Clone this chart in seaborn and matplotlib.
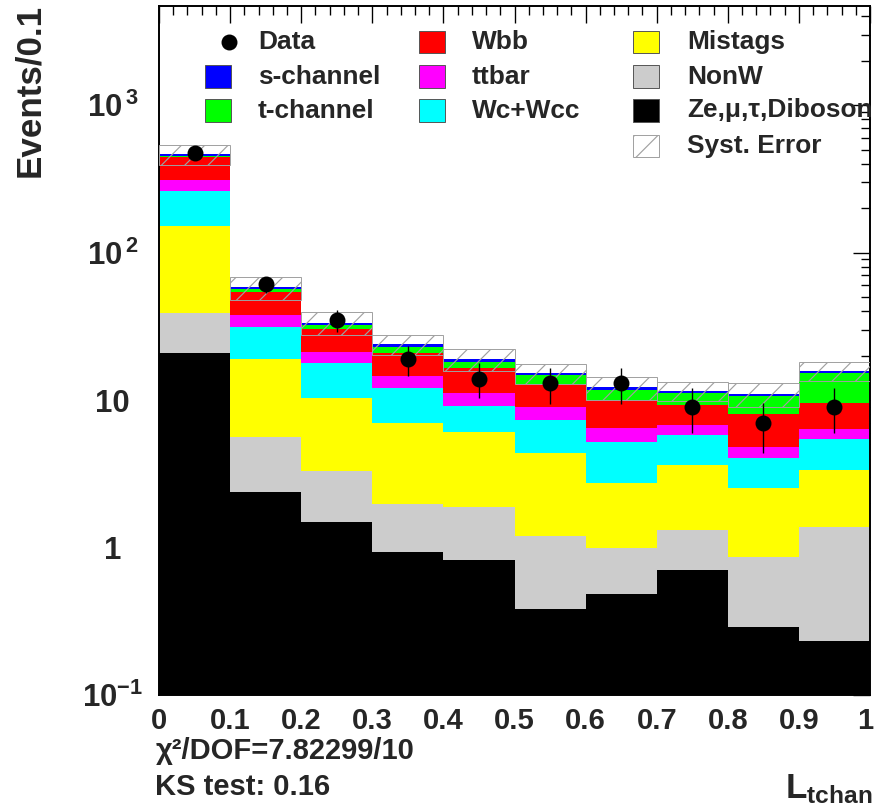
import numpy as np
import pandas as pd
import matplotlib
matplotlib.use("Agg")
import matplotlib.pyplot as plt
import matplotlib.transforms as mtransforms
from matplotlib.patches import Rectangle
from matplotlib.lines import Line2D
from matplotlib.ticker import MultipleLocator, LogLocator, FixedLocator, NullFormatter
import seaborn as sns

# ---- binning ----
bin_edges = [0.0, 0.1, 0.2, 0.3, 0.4, 0.5, 0.6, 0.7, 0.8, 0.9, 1.0]

# ---- stacked background / signal components (events per bin) ----
s_channel = [8.6, 1.8, 1.0, 0.9, 0.7, 0.5, 0.4, 0.4, 0.4, 0.5]
t_channel = [8.4, 2.1, 2.0, 2.1, 1.8, 1.9, 1.9, 1.95, 2.56, 5.71]
wbb = [136.2, 16.5, 9.14, 6.35, 5.2, 3.79, 3.46, 2.48, 3.21, 3.26]
ttbar = [48.8, 6.3, 3.52, 2.55, 2.09, 1.69, 1.21, 0.98, 0.81, 0.92]
wc_wcc = [110.0, 12.53, 7.47, 4.98, 3.01, 2.97, 2.46, 2.17, 1.48, 2.06]
mistags = [112.1, 13.28, 6.95, 5.03, 4.21, 3.15, 1.76, 2.31, 1.67, 1.98]
non_w = [18.3, 3.20, 1.82, 1.05, 1.07, 0.82, 0.51, 0.61, 0.58, 1.14]
z_diboson = [20.8, 2.39, 1.50, 0.937, 0.823, 0.381, 0.484, 0.704, 0.288, 0.233]

# ---- systematic uncertainty on the total prediction ----
syst_err = [72.0, 10.4, 5.9, 3.7, 3.2, 2.3, 2.1, 1.7, 2.0, 2.4]

# ---- observed data ----
data_counts = [475, 61, 35, 19, 14, 13, 13, 9, 7, 9]
data_err = [21.8, 7.8, 5.9, 4.4, 3.7, 3.6, 3.6, 3.0, 2.6, 3.0]

# ---- labels ----
process_names = ["s-channel", "t-channel", "Wbb", "ttbar", "Wc+Wcc",
                 "Mistags", "NonW", "Ze,μ,τ,Diboson"]
process_colors = ["#0000ff", "#00ff00", "#ff0000", "#ff00ff", "#00ffff",
                  "#ffff00", "#cccccc", "#000000"]
x_ticks = [0, 0.1, 0.2, 0.3, 0.4, 0.5, 0.6, 0.7, 0.8, 0.9, 1]
x_tick_labels = ["0", "0.1", "0.2", "0.3", "0.4", "0.5", "0.6", "0.7", "0.8", "0.9", "1"]
y_ticks = [0.1, 1, 10, 100, 1000]
y_tick_labels = [r"$\mathbf{10^{-1}}$", "1", "10", r"$\mathbf{10^{\,2}}$", r"$\mathbf{10^{\,3}}$"]

W, H, DPI = 876, 808, 140

sns.set_theme(style="white")
plt.rcParams["font.family"] = ["Liberation Sans", "DejaVu Sans"]
plt.rcParams["font.weight"] = "bold"
plt.rcParams["mathtext.fontset"] = "custom"
plt.rcParams["mathtext.rm"] = "Liberation Sans:bold"
plt.rcParams["mathtext.bf"] = "Liberation Sans:bold"
plt.rcParams["mathtext.it"] = "Liberation Sans:bold"
plt.rcParams["hatch.linewidth"] = 0.6

fig = plt.figure(figsize=(W / DPI, H / DPI), dpi=DPI)
ax = fig.add_axes([159 / W, 1 - 695 / H, 711 / W, 689 / H])

# long-form table for the stacked histogram
centers = [(a + b) / 2 for a, b in zip(bin_edges[:-1], bin_edges[1:])]
components = [s_channel, t_channel, wbb, ttbar, wc_wcc, mistags, non_w, z_diboson]
rows = []
for name, vals in zip(process_names, components):
    for c, v in zip(centers, vals):
        rows.append({"L": c, "events": v, "process": name})
df = pd.DataFrame(rows)

sns.histplot(data=df, x="L", weights="events", hue="process",
             hue_order=process_names, palette=dict(zip(process_names, process_colors)),
             bins=bin_edges, multiple="stack", element="bars", shrink=1,
             linewidth=0, alpha=1, legend=False, ax=ax)

ax.set_yscale("log")

# systematic band around the stack total
total = np.sum(np.array(components), axis=0)
err = np.array(syst_err)
ax.bar(centers, 2 * err, bottom=total - err, width=0.1, fill=False,
       hatch="//", edgecolor="#a0a0a0", linewidth=0.5, zorder=3)

# data points
ax.errorbar(centers, data_counts, yerr=data_err, fmt="o", color="black",
            ms=7.2, elinewidth=0.7, capsize=0, zorder=6)

ax.set_xlim(0, 1)
ax.set_ylim(0.1, 4700)
ax.set_xlabel("")
ax.set_ylabel("")

# ROOT-style axes: inward ticks on all sides
ax.xaxis.set_major_locator(FixedLocator(x_ticks))
ax.set_xticklabels(x_tick_labels)
ax.xaxis.set_minor_locator(MultipleLocator(0.02))
ax.yaxis.set_major_locator(FixedLocator(y_ticks))
ax.set_yticklabels(y_tick_labels)
ax.yaxis.set_minor_locator(LogLocator(base=10, subs=range(2, 10), numticks=20))
ax.yaxis.set_minor_formatter(NullFormatter())
ax.tick_params(which="both", direction="in", top=True, right=True, color="black", width=0.7)
ax.tick_params(which="major", length=8.5)
ax.tick_params(which="minor", length=4.5)
ax.tick_params(axis="x", labelsize=15, pad=6)
ax.tick_params(axis="y", labelsize=16, pad=24)
for lab in ax.get_yticklabels():
    lab.set_horizontalalignment("center")
# keep the last x label inside the canvas
last_lab = ax.get_xticklabels()[-1]
last_lab.set_transform(last_lab.get_transform() +
                       mtransforms.ScaledTranslation(-5 / DPI, 0, fig.dpi_scale_trans))
for sp in ax.spines.values():
    sp.set_color("black")
    sp.set_linewidth(1.0)
ax.set_facecolor("white")

# legend
def fx(x):
    return x / W


def fy(y):
    return 1 - y / H


legend_cols = [
    [("Data", None), ("s-channel", "#0000ff"), ("t-channel", "#00ff00")],
    [("Wbb", "#ff0000"), ("ttbar", "#ff00ff"), ("Wc+Wcc", "#00ffff")],
    [("Mistags", "#ffff00"), ("NonW", "#cccccc"), ("Ze,μ,τ,Diboson", "#000000"),
     ("Syst. Error", "hatch")],
]
col_box_x = [205, 419, 633]
col_text_x = [258, 472, 687]
row_y = [42, 76.5, 110.5, 146]
box_w, box_h = 26, 22
for ci, col in enumerate(legend_cols):
    for ri, (label, color) in enumerate(col):
        yc = row_y[ri]
        if color is None:
            fig.add_artist(Line2D([fx(229)], [fy(yc)], marker="o", ms=7.2,
                                  color="black", transform=fig.transFigure))
        elif color == "hatch":
            fig.add_artist(Rectangle((fx(col_box_x[ci]), fy(yc + box_h / 2)),
                                     box_w / W, box_h / H, transform=fig.transFigure,
                                     facecolor="white", edgecolor="#a0a0a0",
                                     hatch="//", linewidth=0.5))
        else:
            fig.add_artist(Rectangle((fx(col_box_x[ci]), fy(yc + box_h / 2)),
                                     box_w / W, box_h / H, transform=fig.transFigure,
                                     facecolor=color, edgecolor="#555555", linewidth=0.5))
        fig.text(fx(col_text_x[ci]), fy(yc), label, ha="left", va="center",
                 fontsize=13.5, fontweight="bold")

# axis titles and fit summary
fig.text(fx(30), fy(4), "Events/0.1", rotation=90, ha="center", va="top",
         fontsize=18, fontweight="bold")
fig.text(fx(872), fy(806), r"$\mathbf{L_{tchan}}$", ha="right", va="bottom",
         fontsize=18)
fig.text(fx(156), fy(751), "χ²/DOF=7.82299/10", ha="left", va="center",
         fontsize=15, fontweight="bold")
fig.text(fx(155), fy(787), "KS test: 0.16", ha="left", va="center",
         fontsize=15, fontweight="bold")

fig.savefig("out.png", dpi=DPI, facecolor="white")
